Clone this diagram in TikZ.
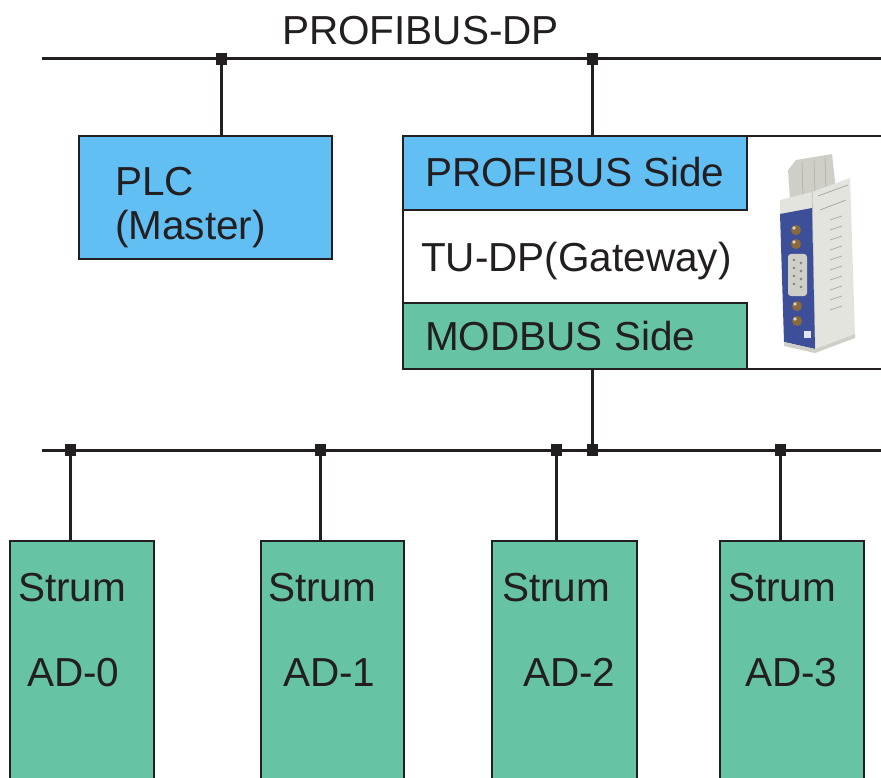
\documentclass[tikz,border=0pt]{standalone}
\usepackage{fontspec}
\setmainfont{Liberation Sans}
\definecolor{lineC}{HTML}{231F20}
\definecolor{pblue}{HTML}{62BFF3}
\definecolor{mgreen}{HTML}{66C4A5}
\definecolor{devgray}{HTML}{E4E4DE}
\definecolor{devgray2}{HTML}{CFCFC8}
\definecolor{devblue}{HTML}{3D4F98}
\definecolor{ledc}{HTML}{8A6A3A}
\begin{document}
\begin{tikzpicture}[x=1pt,y=-1pt,
  box/.style={draw=lineC, line width=1.8pt, inner sep=0pt, outer sep=0pt, anchor=north west},
  bus/.style={draw=lineC, line width=3pt},
  jn/.style={fill=lineC, minimum width=11pt, minimum height=12pt, inner sep=0pt, outer sep=0pt},
  lbl/.style={anchor=base west, inner sep=0pt, font=\fontsize{40.5}{48}\selectfont, text=lineC}]
\clip (0,0) rectangle (881,778);
\fill[white] (0,0) rectangle (881,778);
% buses
\coordinate (tbL) at (42,59);
\coordinate (tbR) at (895,59);
\coordinate (bbL) at (42,450);
\coordinate (bbR) at (895,450);
\draw[bus] (tbL) -- (tbR);
\draw[bus] (bbL) -- (bbR);
\node[lbl] (title) at (282,45) {PROFIBUS-DP};
% PLC
\node[box, fill=pblue, minimum width=253pt, minimum height=123pt] (plc) at (79,136) {};
\node[lbl] (plct1) at (115,196) {PLC};
\node[lbl] (plct2) at (115,240) {(Master)};
% gateway
\node[box, fill=white, minimum width=520pt, minimum height=233pt] (gw) at (403,136) {};
\node[box, fill=pblue, minimum width=344pt, minimum height=74pt] (pside) at (403,136) {};
\node[box, fill=mgreen, minimum width=344pt, minimum height=66pt] (mside) at (403,303) {};
\draw[lineC, line width=1.8pt] (gw.north west) rectangle (gw.south east);
\node[lbl] (pst) at (425,187) {PROFIBUS Side};
\node[lbl] (gwt) at (421,272) {TU-DP(Gateway)};
\node[lbl] (mst) at (425,350) {MODBUS Side};
% device sketch
\fill[devgray2] (788,170) -- (796,160) -- (832,154) -- (836,190) -- (790,200) -- cycle;
\draw[gray!70, line width=0.5pt] (802,162) -- (803,196) (814,160) -- (815,194) (825,157) -- (826,192);
\fill[devgray] (780,200) -- (812,192) -- (812,210) -- (780,216) -- cycle;
\fill[devgray] (812,192) -- (850,178) -- (855,334) -- (815,349) -- cycle;
\draw[gray!80, line width=0.6pt] (818,196) -- (848,185) (820,210) -- (846,200);
\foreach \yy in {220,230,240,250,260,270,280,290,300,310}
  \draw[gray!60, line width=0.8pt] (830,\yy) -- (842,\yy-4);
\draw[gray!70, line width=0.5pt] (812,192) -- (815,349);
\fill[devblue] (780,214) -- (812,208) -- (815,349) -- (784,342) -- cycle;
\fill[ledc] (796,230) circle (5);
\fill[ledc] (796,244) circle (5);
\fill[white!70!ledc] (794,228) circle (1.8);
\fill[white!70!ledc] (794,242) circle (1.8);
\fill[devgray2, rounded corners=3pt] (788,254) rectangle (807,296);
\foreach \yy in {260,268,276,284}
  { \fill[gray] (794,\yy) circle (1.4); \fill[gray] (801,\yy+3) circle (1.4); }
\fill[ledc] (797,306) circle (5);
\fill[ledc] (797,321) circle (5);
\fill[white!70!ledc] (795,304) circle (1.8);
\fill[white!70!ledc] (795,319) circle (1.8);
\fill[white!85!devblue] (804,331) rectangle (811,338);
\fill[devgray2] (784,342) -- (815,349) -- (855,334) -- (855,338) -- (815,353) -- (784,346) -- cycle;
% Strum boxes
\node[box, fill=mgreen, minimum width=144pt, minimum height=300pt] (ad0) at (10,541) {};
\node[box, fill=mgreen, minimum width=143pt, minimum height=300pt] (ad1) at (261,541) {};
\node[box, fill=mgreen, minimum width=145pt, minimum height=300pt] (ad2) at (492,541) {};
\node[box, fill=mgreen, minimum width=144pt, minimum height=300pt] (ad3) at (720,541) {};
\node[lbl] (s0) at (18,601) {Strum};
\node[lbl] (a0) at (27,686) {AD-0};
\node[lbl] (s1) at (268,601) {Strum};
\node[lbl] (a1) at (283,686) {AD-1};
\node[lbl] (s2) at (502,601) {Strum};
\node[lbl] (a2) at (523,686) {AD-2};
\node[lbl] (s3) at (728,601) {Strum};
\node[lbl] (a3) at (745,686) {AD-3};
% junctions
\node[jn] (jt1) at (221,59.5) {};
\node[jn] (jt2) at (592,59.5) {};
\node[jn] (jb0) at (70,450) {};
\node[jn] (jb1) at (320,450) {};
\node[jn] (jb2) at (556,450) {};
\node[jn] (jbg) at (592,450) {};
\node[jn] (jb3) at (780,450) {};
% drops
\draw[bus] (jt1.center) -- (jt1.center |- plc.north);
\draw[bus] (jt2.center) -- (jt2.center |- gw.north);
\draw[bus] (jbg.center) -- (jbg.center |- gw.south);
\draw[bus] (jb0.center) -- (jb0.center |- ad0.north);
\draw[bus] (jb1.center) -- (jb1.center |- ad1.north);
\draw[bus] (jb2.center) -- (jb2.center |- ad2.north);
\draw[bus] (jb3.center) -- (jb3.center |- ad3.north);
\end{tikzpicture}
\end{document}
